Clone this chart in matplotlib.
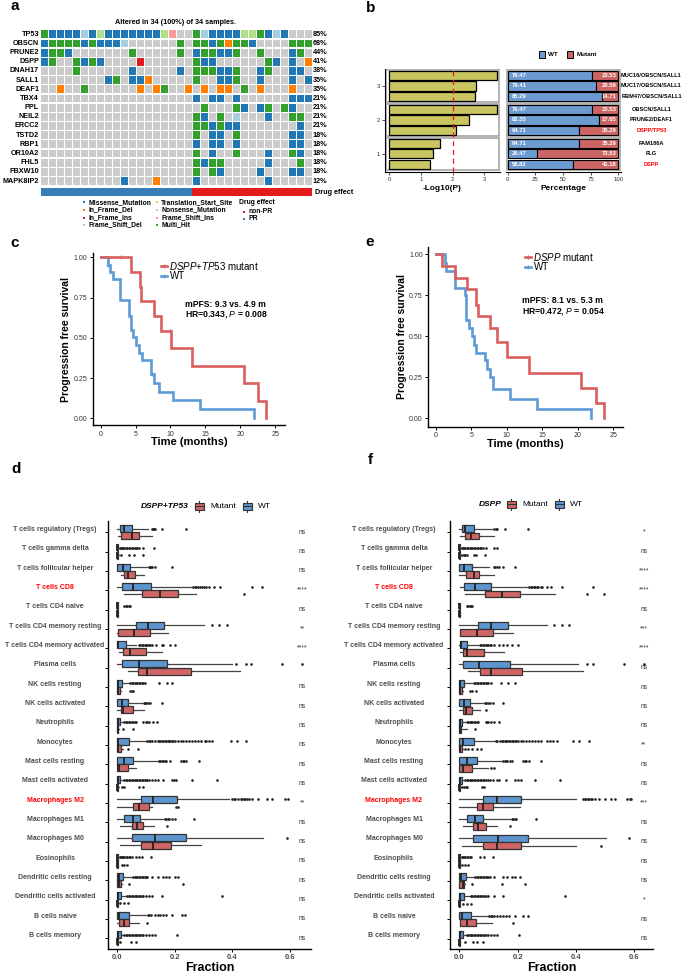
import matplotlib
matplotlib.use("Agg")
import matplotlib.pyplot as plt
import matplotlib.transforms as mtrans
from matplotlib.patches import Rectangle
import numpy as np

plt.rcParams['font.family'] = ['Liberation Sans', 'DejaVu Sans']
plt.rcParams['mathtext.fontset'] = 'custom'
plt.rcParams['mathtext.it'] = 'Liberation Sans:italic'
plt.rcParams['mathtext.rm'] = 'Liberation Sans'
plt.rcParams['mathtext.bf'] = 'Liberation Sans:bold'

# ---------------- data: panel a (oncoprint) ----------------
genes = ["TP53", "OBSCN", "PRUNE2", "DSPP", "DNAH17", "SALL1", "DEAF1", "TBX4", "PPL",
         "NEIL2", "ERCC2", "TSTD2", "RBP1", "OR10A2", "FHL5", "FBXW10", "MAPK8IP2"]
# M missense, H multi hit, F frame shift del, N nonsense, I frame shift ins,
# D in frame del, R in frame ins, . none
onco_rows = [
    "HMMMMFMNMMMMMMMNI..HFMMMMNNHMFM...",
    "MHHHHMHMMMF......H.HHMHDHHM....HHH",
    "MHHM.......H.....H.MHHMMH..H...MH.",
    "MH..HMHM....R......HMM......HM.M.D",
    "....H......M.....M.HHHMMH..MH..MM.",
    "........MH.MMD.....H..MMH..M...M.M",
    "..D..H......D.DH..D.D.DD.H.D...D..",
    "...................M.MM.M......MMM",
    "....................H...HM.MH.HM..",
    "...................HM.H.F...M..HH.",
    "...................HHMHMM.......M.",
    "...................H.MM.H......MM.",
    "...................M.MM.M......MM.",
    "...................H.M..H...M..HM.",
    "...................HMHH.....M...H.",
    "...................H.HM....M...MM.",
    "..........M...D....M........M.....",
]
drug_effect = ["PR"] * 19 + ["non-PR"] * 15
mut_names = {"M": "Missense_Mutation", "D": "In_Frame_Del", "R": "In_Frame_Ins",
             "F": "Frame_Shift_Del", "T": "Translation_Start_Site", "N": "Nonsense_Mutation",
             "I": "Frame_Shift_Ins", "H": "Multi_Hit"}
mut_colors = {"M": "#1F78B4", "D": "#FF7F00", "R": "#E31A1C", "F": "#A6CEE3",
              "T": "#FDBF6F", "N": "#B2DF8A", "I": "#FB9A99", "H": "#33A02C"}
drug_colors = {"PR": "#377EB8", "non-PR": "#E41A1C"}

# ---------------- data: panel b ----------------
b_labels = ["MUC16/OBSCN/SALL1", "MUC17/OBSCN/SALL1", "RBM47/OBSCN/SALL1",
            "OBSCN/SALL1", "PRUNE2/DEAF1", "DSPP/TP53", "FAM186A", "FLG", "DSPP"]
b_group_names = ["3", "2", "1"]
b_logp = [3.38, 2.73, 2.69, 3.40, 2.52, 2.11, 1.60, 1.39, 1.29]
b_wt = [76.47, 79.41, 85.29, 76.47, 82.35, 64.71, 64.71, 26.47, 58.82]
b_mut = [23.53, 20.59, 14.71, 23.53, 17.65, 35.29, 35.29, 73.53, 41.18]
b_highlight = ["DSPP/TP53", "DSPP"]

# ---------------- data: KM panels c and e ----------------
c_mut_t = [0, 4.4, 5.6, 5.8, 7.7, 8.7, 10.1, 13.1, 20.5, 22.6, 23.7]
c_mut_s = [1, 0.909, 0.818, 0.727, 0.636, 0.545, 0.436, 0.327, 0.218, 0.109, 0]
c_mut_cens_t = [2.9, 9.9]
c_mut_cens_s = [1.0, 0.545]
c_wt_t = [0, 1.0, 1.3, 1.7, 2.8, 4.1, 4.3, 4.7, 5.1, 5.5, 5.9, 7.2, 7.7, 8.3, 10.4, 14.2, 21.9]
c_wt_s = [1, 0.955, 0.909, 0.864, 0.733, 0.636, 0.549, 0.503, 0.455, 0.408, 0.362,
          0.273, 0.217, 0.166, 0.112, 0.056, 0]
c_wt_cens_t = [1.0, 7.4]
c_wt_cens_s = [0.955, 0.273]

e_mut_t = [0, 0.94, 2.7, 4.4, 5.7, 5.9, 7.7, 8.6, 10.0, 13.1, 20.4, 22.5, 23.7]
e_mut_s = [1, 0.929, 0.857, 0.786, 0.69, 0.625, 0.549, 0.463, 0.376, 0.278, 0.187, 0.091, 0]
e_wt_t = [0, 1.3, 1.5, 2.7, 4.1, 4.2, 4.3, 4.7, 5.1, 5.4, 5.7, 7.0, 7.2, 7.7, 8.1, 10.4, 14.2, 21.8]
e_wt_s = [1, 0.949, 0.898, 0.797, 0.752, 0.70, 0.60, 0.549, 0.502, 0.447, 0.40, 0.356,
          0.30, 0.254, 0.177, 0.118, 0.057, 0]

# ---------------- data: immune cell fractions (panels d and f) ----------------
cells = ["T cells regulatory (Tregs)", "T cells gamma delta", "T cells follicular helper",
         "T cells CD8", "T cells CD4 naive", "T cells CD4 memory resting",
         "T cells CD4 memory activated", "Plasma cells", "NK cells resting",
         "NK cells activated", "Neutrophils", "Monocytes", "Mast cells resting",
         "Mast cells activated", "Macrophages M2", "Macrophages M1", "Macrophages M0",
         "Eosinophils", "Dendritic cells resting", "Dendritic cells activated",
         "B cells naive", "B cells memory"]
highlight_cells = ["T cells CD8", "Macrophages M2"]

# each stat row: whisker low, q1, median, q3, whisker high
d_wt_stats = [
    [0, .009, .023, .05, .108], [0, 0, 0, .002, .005], [0, 0, .021, .045, .102],
    [0, .017, .056, .116, .259], [0, 0, 0, .001, .003], [0, .065, .106, .164, .302],
    [0, 0, .003, .029, .065], [0, .017, .077, .174, .398], [0, 0, .002, .017, .04],
    [0, 0, .017, .036, .085], [0, 0, .002, .009, .02], [0, 0, .004, .042, .1],
    [0, 0, .023, .056, .14], [0, 0, .002, .009, .02], [0, .083, .125, .207, .39],
    [0, .024, .053, .08, .16], [0, .05, .131, .238, .506], [0, 0, 0, .002, .005],
    [0, 0, .006, .021, .05], [0, 0, .004, .013, .03], [0, 0, .007, .042, .1],
    [0, 0, .002, .012, .02]]
d_mut_stats = [
    [.003, .013, .05, .077, .122], [0, 0, 0, .002, .005], [.012, .022, .038, .062, .093],
    [.023, .087, .149, .21, .273], [0, 0, 0, .001, .002], [0, .003, .058, .115, .178],
    [.006, .021, .044, .1, .154], [.038, .071, .102, .255, .427], [0, 0, .003, .009, .012],
    [0, .013, .021, .056, .093], [0, 0, .001, .003, .006], [0, 0, .003, .012, .02],
    [0, 0, .007, .038, .065], [0, 0, 0, .002, .005], [0, .056, .075, .109, .12],
    [.009, .052, .067, .09, .129], [.009, .081, .123, .187, .29], [0, 0, 0, .002, .004],
    [0, 0, .006, .012, .018], [0, 0, 0, .002, .004], [0, .005, .023, .042, .077],
    [0, 0, 0, .002, .004]]
d_wt_fliers = [
    [.12, .123, .127, .13, .157, .238],
    [.008, .012, .016, .02, .025, .03, .035, .04, .045, .05, .055, .06, .065, .07, .075, .09, .128],
    [.11, .113, .117, .121, .131, .191],
    [.265, .27, .275, .28, .287, .295, .302, .31, .32, .335, .357, .468, .505],
    [.025, .03, .035, .04, .044],
    [.33, .354, .381],
    [.075, .08, .085, .09, .095, .1, .105, .11, .115, .12, .135, .155, .16, .185, .2],
    [.413, .448, .464, .572, .642],
    [.045, .05, .055, .06, .065, .07, .075, .08, .085, .09, .095, .146, .172, .191],
    [.092, .097, .1, .106, .115, .154],
    [.025, .03, .035, .04, .045, .05, .055, .06, .065, .09, .1, .105, .11, .125, .137],
    [.105, .11, .115, .12, .13, .14, .145, .15, .155, .16, .165, .17, .175, .18, .185, .19,
     .195, .2, .21, .22, .23, .24, .25, .26, .27, .28, .29, .305, .31, .32, .33, .395, .418, .448],
    [.145, .15, .155, .16, .165, .17, .182, .222, .228, .232, .24, .283],
    [.025, .03, .035, .04, .045, .05, .055, .06, .065, .07, .075, .08, .085, .09, .095, .1,
     .105, .11, .12, .13, .14, .16, .19, .198, .205, .26, .348],
    [.398, .405, .41, .42, .43, .435, .44, .445, .45, .46, .47, .49, .52, .54, .585, .595],
    [.165, .17, .175, .18, .19, .2, .266],
    [.59],
    [.008, .012, .016, .02, .025, .03, .035, .04, .045, .05, .065, .075, .085, .116],
    [.055, .06, .065, .07, .075, .08, .085, .09, .095, .1, .105, .12, .14, .16, .17, .18, .2, .212],
    [.035, .04, .045, .05, .055, .06, .065, .07, .075, .08, .085, .09, .1, .11, .12, .154, .366],
    [.108, .112, .118, .13, .14, .15, .16, .17, .19, .225, .235],
    [.025, .03, .035, .04, .045, .05, .055, .06, .065, .07, .075, .08, .085, .09, .1, .11, .12, .13, .207]]
d_mut_fliers = [[], [.013, .042, .059, .09], [], [.441], [], [], [], [], [.045, .05, .055], [],
                [.02, .053], [.036, .073], [], [.015, .023, .076, .088], [.203, .21], [.174], [],
                [.015, .025, .033], [.042, .227], [.01, .023, .038], [.104], [.01, .048, .065]]
d_sig = ["ns", "ns", "ns", "****", "ns", "**", "****", "", "ns", "ns", "ns", "ns", "ns", "ns",
         "**", "ns", "ns", "ns", "ns", "ns", "ns", "ns"]

f_wt_stats = [
    [0, .008, .019, .05, .111], [0, 0, 0, .002, .005], [0, 0, .016, .042, .102],
    [.002, .016, .054, .107, .237], [0, 0, 0, .001, .003], [0, .065, .107, .168, .3],
    [0, .002, .005, .027, .065], [0, .014, .067, .174, .408], [0, 0, .002, .017, .045],
    [0, 0, .017, .037, .082], [0, 0, .002, .009, .02], [0, 0, .011, .05, .122],
    [0, 0, .027, .059, .147], [0, 0, .002, .009, .015], [0, .082, .128, .211, .4],
    [0, .025, .054, .08, .175], [0, .048, .131, .237, .502], [0, 0, 0, .002, .005],
    [0, 0, .006, .023, .05], [0, 0, .004, .017, .036], [0, 0, .008, .04, .097],
    [0, 0, .002, .012, .023]]
f_mut_stats = [
    [.002, .021, .039, .066, .12], [0, 0, 0, .002, .005], [0, .023, .051, .067, .119],
    [.019, .087, .147, .208, .328], [0, 0, 0, .001, .002], [.002, .003, .059, .117, .183],
    [.002, .014, .027, .085, .153], [.031, .071, .107, .216, .423], [0, 0, .003, .008, .012],
    [0, .014, .022, .045, .071], [0, 0, .002, .006, .028], [0, 0, .002, .008, .012],
    [0, 0, .011, .042, .097], [0, 0, 0, .002, .005], [0, .062, .08, .117, .208],
    [.011, .048, .065, .09, .128], [.01, .08, .128, .21, .399], [0, 0, 0, .002, .004],
    [0, 0, .011, .016, .02], [0, 0, 0, .002, .004], [.003, .004, .025, .057, .113],
    [0, 0, 0, .002, .004]]
f_wt_fliers = [
    [.12, .125, .13, .155, .234],
    [.008, .012, .016, .02, .025, .03, .035, .04, .045, .05, .055, .06, .065, .07, .075, .08, .09, .12, .128],
    [.119, .122, .128, .135, .151, .191],
    [.24, .245, .25, .255, .26, .265, .27, .28, .285, .3, .313, .353, .46],
    [.025, .03, .035, .04, .045],
    [.326, .351, .376],
    [.07, .075, .08, .085, .09, .095, .1, .105, .11, .12, .135, .15, .162, .18, .2],
    [.437, .46, .565, .633],
    [.05, .055, .06, .065, .07, .075, .08, .085, .09, .095, .1, .11, .143, .168, .191],
    [.087, .093, .1, .105, .114, .151],
    [.025, .03, .035, .04, .045, .05, .055, .06, .065, .09, .095, .1, .11, .12, .137],
    [.125, .13, .14, .145, .15, .155, .16, .165, .17, .175, .18, .185, .19, .195, .2, .21, .22,
     .23, .24, .25, .26, .27, .28, .3, .31, .32, .335, .39, .41, .445],
    [.15, .155, .16, .165, .175, .18, .22, .225, .23, .24, .28],
    [.02, .025, .03, .035, .04, .045, .05, .055, .06, .065, .07, .075, .08, .085, .09, .1, .105,
     .115, .13, .135, .16, .19, .2, .21, .26, .345],
    [.425, .43, .435, .44, .445, .45, .455, .465, .48, .5, .52, .535, .575, .585, .59],
    [.18, .185, .19, .195, .263],
    [.583],
    [.008, .012, .016, .02, .025, .03, .035, .04, .072, .085, .114],
    [.055, .06, .065, .07, .075, .08, .085, .09, .095, .1, .105, .12, .15, .165, .18, .19, .208],
    [.04, .045, .05, .055, .06, .065, .07, .075, .08, .085, .09, .1, .12, .151, .362],
    [.103, .107, .112, .12, .13, .14, .15, .16, .17, .19, .218, .235],
    [.025, .03, .035, .04, .045, .05, .055, .06, .065, .07, .075, .08, .085, .09, .1, .11, .12, .128, .206]]
f_mut_fliers = [[], [.01, .015, .02, .025, .05, .057, .089], [], [.437, .497], [], [], [], [],
                [.037, .045, .057], [.09], [.054], [.02, .03, .045, .06, .075], [.107, .119],
                [.01, .015, .022, .025, .077, .085], [], [.174], [.486], [.01, .02, .03],
                [.042, .147, .225], [.012, .025, .04], [.183], [.02, .046, .062, .08]]
f_sig = ["*", "ns", "****", "****", "ns", "***", "****", "ns", "ns", "ns", "ns", "**", "ns",
         "ns", "***", "ns", "ns", "ns", "ns", "*", "ns", "ns"]

# ---------------- styling ----------------
RED = "#D9605F"
BLUE = "#5E9AD6"
BOX_RED = "#CF6565"
BOX_BLUE = "#5F95CF"
W, H = 685, 975

fig = plt.figure(figsize=(W / 100, H / 100), dpi=100)


def px_axes(l, t, r, b):
    return fig.add_axes([l / W, 1 - b / H, (r - l) / W, (b - t) / H])


ov = fig.add_axes([0, 0, 1, 1], zorder=10)
ov.set_xlim(0, W)
ov.set_ylim(H, 0)
ov.axis("off")

# panel letters
for letter, x, y in [("a", 15, 10), ("b", 371, 12), ("c", 15, 247), ("e", 370, 246),
                     ("d", 16, 473), ("f", 370, 464)]:
    ov.text(x, y, letter, fontsize=11, weight="bold", ha="center", va="baseline")

# ================= panel a =================
ax = px_axes(41, 29.7, 312, 185.6)
for gi, row in enumerate(onco_rows):
    xs = np.arange(len(row))
    ax.bar(xs, 0.86, bottom=gi - 0.43, width=0.88, color="#CCCCCC", linewidth=0)
    for ci, code in enumerate(row):
        if code != ".":
            ax.bar(ci, 0.86, bottom=gi - 0.43, width=0.88, color=mut_colors[code], linewidth=0)
    n_alt = sum(ch != "." for ch in row)
    ax.text(-0.75, gi, genes[gi], ha="right", va="center", fontsize=5.2, weight="bold")
    ax.text(33.6, gi, f"{round(100 * n_alt / len(row))}%", ha="left", va="center",
            fontsize=5.2, weight="bold")
ax.set_xlim(-0.5, 33.5)
ax.set_ylim(len(genes) - 0.5, -0.5)
ax.axis("off")

axd = px_axes(41, 188, 312, 196)
axd.bar(np.arange(len(drug_effect)), 1, width=1.02,
        color=[drug_colors[d] for d in drug_effect], linewidth=0)
axd.set_xlim(-0.5, 33.5)
axd.set_ylim(0, 1)
axd.axis("off")
ov.text(315, 192, "Drug effect", fontsize=5.2, weight="bold", va="center", ha="left")

ov.text(176, 22, "Altered in 34 (100%) of 34 samples.", fontsize=5.2, weight="bold",
        ha="center", va="center")

leg_cols = [["M", "D", "R", "F"], ["T", "N", "I", "H"]]
leg_x = [84.3, 156.7]
leg_y = [202.3, 209.9, 217.5, 225.1]
for cx, col in zip(leg_x, leg_cols):
    for yy, code in zip(leg_y, col):
        ov.plot(cx, yy, "s", ms=2.0, color=mut_colors[code], mew=0)
        ov.text(cx + 4.5, yy, mut_names[code], fontsize=4.9, weight="bold", va="center")
ov.text(238.7, 202.3, "Drug effect", fontsize=4.9, weight="bold", va="center")
for yy, lab in zip([211.5, 219.0], ["non-PR", "PR"]):
    ov.plot(243.7, yy, "s", ms=2.0, color=drug_colors[lab], mew=0)
    ov.text(248.2, yy, lab, fontsize=4.9, weight="bold", va="center")

# ================= panel b =================
ypos = np.arange(len(b_labels)) + 0.3 * (np.arange(len(b_labels)) // 3)
bl = px_axes(385, 69.3, 500, 172.3)
br = px_axes(506, 69.3, 621, 172.3)
for a in (bl, br):
    a.set_ylim(ypos[-1] + 0.78, -0.62)
    for g in range(3):
        y0 = ypos[3 * g] - 0.55
        y1 = ypos[3 * g + 2] + 0.55
        a.add_patch(Rectangle((0.01, y0), 0.98, y1 - y0,
                              transform=mtrans.blended_transform_factory(a.transAxes, a.transData),
                              fc="none", ec="#A5A5A5", lw=1.2, zorder=0))
    a.spines["top"].set_visible(False)
    a.spines["right"].set_visible(False)
    a.tick_params(labelsize=4.3, length=2, width=0.6, pad=1.5, colors="#333333")

bl.barh(ypos, b_logp, height=0.88, color="#C9C561", edgecolor="black", linewidth=0.9)
bl.axvline(2, color="#E41A1C", ls=(0, (4, 3)), lw=0.9)
bl.set_xlim(-0.136, 3.49)
bl.set_xticks([0, 1, 2, 3])
bl.set_yticks([ypos[1], ypos[4], ypos[7]])
bl.set_yticklabels(b_group_names)
bl.set_xlabel("-Log10(P)", fontsize=6, weight="bold", labelpad=2)

br.barh(ypos, b_wt, height=0.88, color="#6C9BD2", edgecolor="black", linewidth=0.8)
br.barh(ypos, b_mut, left=b_wt, height=0.88, color="#CD6464", edgecolor="black", linewidth=0.8)
for yy, w, m, lab in zip(ypos, b_wt, b_mut, b_labels):
    br.text(4, yy, f"{w:.2f}", color="white", fontsize=4.2, weight="bold", va="center")
    br.text(98.5, yy, f"{m:.2f}", color="white", fontsize=4.2, weight="bold", va="center", ha="right")
    br.text(1.265, yy, lab, transform=mtrans.blended_transform_factory(br.transAxes, br.transData),
            fontsize=4.1, weight="bold", va="center", ha="center",
            color="#FF0000" if lab in b_highlight else "black")
br.set_xlim(-1.54, 102.4)
br.set_xticks([0, 25, 50, 75, 100])
br.set_yticks([])
br.spines["left"].set_visible(False)
br.set_xlabel("Percentage", fontsize=6, weight="bold", labelpad=2)

for x0, col, lab in [(539, "#6C9BD2", "WT"), (567, "#CD6464", "Mutant")]:
    ov.add_patch(Rectangle((x0, 51), 6.5, 6.5, fc=col, ec="black", lw=0.7))
    ov.text(x0 + 9.5, 54.3, lab, fontsize=4.5, weight="bold", va="center")


# ================= panels c and e =================
def km_panel(box, xl, yl, mut, wt, cens, ylab_x, leg, lab_mut, ann):
    a = px_axes(*box)
    a.step(wt[0], wt[1], where="post", color=BLUE, lw=1.9, solid_joinstyle="miter")
    a.step(mut[0], mut[1], where="post", color=RED, lw=1.9, solid_joinstyle="miter")
    for (ct, cs), col in zip(cens, [RED, BLUE]):
        a.plot(ct, cs, "+", ms=3.5, mew=0.8, color=col, ls="none")
    a.set_xlim(*xl)
    a.set_ylim(*yl)
    a.set_xticks([0, 5, 10, 15, 20, 25])
    a.set_yticks([0, 0.25, 0.5, 0.75, 1.0])
    a.set_yticklabels(["0.00", "0.25", "0.50", "0.75", "1.00"])
    for s in ("top", "right"):
        a.spines[s].set_visible(False)
    for s in ("left", "bottom"):
        a.spines[s].set_linewidth(1.0)
    a.tick_params(labelsize=5, length=2.5, width=0.7, pad=1.5, labelcolor="#333333")
    a.set_ylabel("Progression free survival", fontsize=7.5, weight="bold")
    a.yaxis.set_label_coords(ylab_x, 0.5)
    a.set_xlabel("Time (months)", fontsize=8, weight="bold")
    a.xaxis.set_label_coords(0.5, -0.07)
    lx, ly = leg
    for dy, col, txt in [(0, RED, lab_mut), (10, BLUE, "WT")]:
        ov.plot([lx, lx + 6], [ly + dy, ly + dy], color=col, lw=1.9)
        ov.plot(lx + 3, ly + dy, "+", color=col, ms=3, mew=0.8)
        ov.text(lx + 8.5, ly + dy, txt, fontsize=7, va="center", ha="left")
    ax_, ay_ = ann[0]
    ov.text(ax_, ay_, ann[1], fontsize=6.2, weight="bold", va="center")
    ov.text(ax_, ay_ + 10.5, ann[2], fontsize=6.2, weight="bold", va="center")
    return a


km_panel((92.7, 253, 285, 425), (-1.14, 26.4), (-0.0416, 1.027),
         (c_mut_t, c_mut_s), (c_wt_t, c_wt_s),
         [(c_mut_cens_t, c_mut_cens_s), (c_wt_cens_t, c_wt_cens_s)], -0.113,
         (161, 265.7), r"$\mathit{DSPP}$+$\mathit{TP53}$ mutant",
         ((185, 304.5), "mPFS: 9.3 vs. 4.9 m", r"HR=0.343, $\mathit{P}$ = 0.008"))
km_panel((428.3, 246.7, 622.7, 426.7), (-1.04, 26.3), (-0.051, 1.046),
         (e_mut_t, e_mut_s), (e_wt_t, e_wt_s), [([], []), ([], [])], -0.111,
         (525, 257.3), r"$\mathit{DSPP}$ mutant",
         ((521.7, 300.8), "mPFS: 8.1 vs. 5.3 m", r"HR=0.472, $\mathit{P}$ = 0.054"))


# ================= panels d and f =================
def to_bxp(stats, fliers):
    return [dict(whislo=s[0], q1=s[1], med=s[2], q3=s[3], whishi=s[4], fliers=fl)
            for s, fl in zip(stats, fliers)]


def box_panel(box, xl, wt_stats, wt_fl, mut_stats, mut_fl, sig, lab_x, sig_x, title, leg):
    a = px_axes(*box)
    pos = np.arange(len(cells))
    for stats, fl, off, col in [(wt_stats, wt_fl, -0.19, BOX_BLUE),
                                (mut_stats, mut_fl, 0.19, BOX_RED)]:
        a.bxp(to_bxp(stats, fl), positions=pos + off, widths=0.36, vert=False,
              patch_artist=True, showcaps=False,
              boxprops=dict(facecolor=col, edgecolor="#333333", linewidth=0.9),
              medianprops=dict(color="#222222", linewidth=1.3),
              whiskerprops=dict(color="#444444", linewidth=0.9),
              flierprops=dict(marker="o", markersize=1.9, markerfacecolor="#222222",
                              markeredgecolor="#222222", markeredgewidth=0))
    a.set_ylim(21.54, -0.6)
    a.set_xlim(*xl)
    a.set_yticks(pos)
    a.set_yticklabels([])
    a.set_xticks([0, 0.2, 0.4, 0.6])
    a.set_xticklabels(["0.0", "0.2", "0.4", "0.6"])
    for s in ("top", "right"):
        a.spines[s].set_visible(False)
    for s in ("left", "bottom"):
        a.spines[s].set_linewidth(1.0)
    a.tick_params(labelsize=5.5, length=2, width=0.7, pad=1.5, labelcolor="#4D4D4D")
    for lab in a.get_xticklabels():
        lab.set_fontweight("bold")
    a.set_xlabel("Fraction", fontsize=9, weight="bold", labelpad=1)
    tr = mtrans.blended_transform_factory(a.transAxes, a.transData)
    for i, (name, s) in enumerate(zip(cells, sig)):
        a.text(lab_x, i - 0.15, name, transform=tr, ha="center", va="center", fontsize=5.0,
               weight="bold", color="#FF0000" if name in highlight_cells else "#4D4D4D")
        a.text(sig_x, i, s, ha="center", va="center", fontsize=4.8, color="#333333")
    tx, ty, ix_mut, ix_wt = leg
    ov.text(tx, ty, title, fontsize=6, weight="bold", style="italic", ha="right", va="center")
    for x0, col, lab in [(ix_mut, BOX_RED, "Mutant"), (ix_wt, BOX_BLUE, "WT")]:
        ov.add_patch(Rectangle((x0, ty - 3.5), 9, 7, fc=col, ec="#333333", lw=0.8))
        ov.plot([x0, x0 + 9], [ty, ty], color="#333333", lw=0.8)
        ov.plot([x0 + 4.5, x0 + 4.5], [ty - 5.5, ty - 3.5], color="#333333", lw=0.8)
        ov.plot([x0 + 4.5, x0 + 4.5], [ty + 3.5, ty + 5.5], color="#333333", lw=0.8)
        ov.text(x0 + 15, ty, lab, fontsize=6, va="center", ha="left")
    return a


box_panel((107.7, 520.7, 311, 948.7), (-0.0334, 0.674), d_wt_stats, d_wt_fliers,
          d_mut_stats, d_mut_fliers, d_sig, -0.259, 0.643, "DSPP+TP53", (189, 506, 195, 243))
box_panel((450, 520.7, 653, 949), (-0.0319, 0.664), f_wt_stats, f_wt_fliers,
          f_mut_stats, f_mut_fliers, f_sig, -0.276, 0.633, "DSPP", (502, 504, 507, 555))

fig.savefig("out.png", dpi=100)
